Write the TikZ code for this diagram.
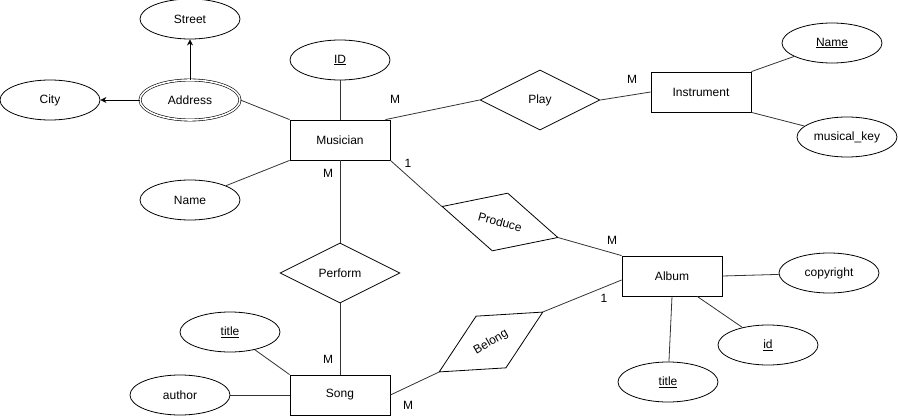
\documentclass[tikz,border=0pt]{standalone}
\usepackage{fontspec}
\setmainfont{Liberation Sans}
\usepackage{tikz}
\usetikzlibrary{shapes.geometric, arrows.meta, calc}

\tikzset{
  % Entity rectangle
  entity/.style={
    rectangle, draw=black, line width=0.8pt,
    minimum width=100pt, minimum height=40pt,
    inner sep=0pt
  },
  % Attribute oval
  attrib/.style={
    ellipse, draw=black, line width=0.8pt,
    minimum width=100pt, minimum height=40pt,
    inner sep=0pt
  },
  % Multivalued attribute
  multiattrib/.style={
    attrib, double, double distance=1.6pt, line width=0.6pt
  },
  % Relationship diamond
  relation/.style={
    diamond, draw=black, line width=0.8pt,
    minimum width=120pt, minimum height=60pt,
    inner sep=0pt
  },
  % Connector line
  link/.style={
    draw=black!80, line width=0.8pt
  },
  % Arrow style
  arrow/.style={
    -{Stealth[length=6pt,width=6pt]}, line width=0.8pt, draw=black
  },
  % Cardinality label
  card/.style={
    inner sep=0pt
  }
}

\begin{document}
\begin{tikzpicture}[
  x=1pt, y=-1pt,
  every node/.style={font=\fontsize{12}{14}\selectfont}
]
\useasboundingbox (0,0) rectangle (898,420);

% Entities
\node[entity] (musician)   at (340,140) {Musician};
\node[entity] (instrument) at (701,92)  {Instrument};
\node[entity] (album)      at (672,276) {Album};
\node[entity] (song)       at (340,395) {Song};

% Relationships
\node[relation] (play)    at (540,100) {Play};
\node[relation, rotate=-15] (produce) at (500,222) {Produce};
\node[relation] (perform) at (340,273) {Perform};
\node[relation, rotate=30]  (belong)  at (491,342) {Belong};

% Musician attributes
\node[attrib] (street)  at (190,19)  {Street};
\node[attrib] (city)    at (50,100)  {City};
\node[multiattrib] (address) at (190,100) {Address};
\node[attrib] (musid)   at (340,60)  {\underline{ID}};
\node[attrib] (musname) at (190,200) {Name};

% Instrument attributes
\node[attrib] (instname)   at (832,43)  {\underline{Name}};
\node[attrib] (musicalkey) at (847,137) {musical\_key};

% Album attributes
\node[attrib] (copyright)  at (829,273) {copyright};
\node[attrib] (albumid)    at (768,345) {\underline{id}};
\node[attrib] (albumtitle) at (668,382) {\underline{title}};

% Song attributes
\node[attrib] (songtitle) at (230,332) {\underline{title}};
\node[attrib] (author)    at (180,395) {author};

% Arrows
\draw[arrow] (address) -- (street);
\draw[arrow] (address) -- (city);

% Lines
\draw[link] (address.east) -- (musician.north west);
\draw[link] (musid) -- (musician);
\draw[link] (musname) -- (musician.south west);
\draw[link] ($(musician.north east)+(-5,0)$) -- (play.west);
\draw[link] (play.east) -- (instrument.west);
\draw[link] (instrument.north east) -- (instname);
\draw[link] (instrument.south east) -- (musicalkey);
\draw[link] (musician.south east) -- (produce.west);
\draw[link] (produce.east) -- (album.north west);
\draw[link] (musician) -- (perform);
\draw[link] (perform) -- (song);
\draw[link] (belong.east) -- ($(album.west)+(0,4)$);
\draw[link] (belong.west) -- (song.east);
\draw[link] (album.east) -- (copyright);
\draw[link] ($(album.south)!0.5!(album.south east)$) -- (albumid);
\draw[link] (album.south) -- (albumtitle);
\draw[link] (songtitle) -- (song.north west);
\draw[link] (author) -- (song.west);

% Cardinalities
\node[card] (cardMusPlay)   at (395,99)  {M};
\node[card] (cardInsPlay)   at (632,79)  {M};
\node[card] (cardMusProd)   at (408,163) {1};
\node[card] (cardAlbProd)   at (612,240) {M};
\node[card] (cardAlbBel)    at (604,298) {1};
\node[card] (cardMusPerf)   at (328,173) {M};
\node[card] (cardSongPerf)  at (328,359) {M};
\node[card] (cardSongBel)   at (408,405) {M};

\end{tikzpicture}
\end{document}
